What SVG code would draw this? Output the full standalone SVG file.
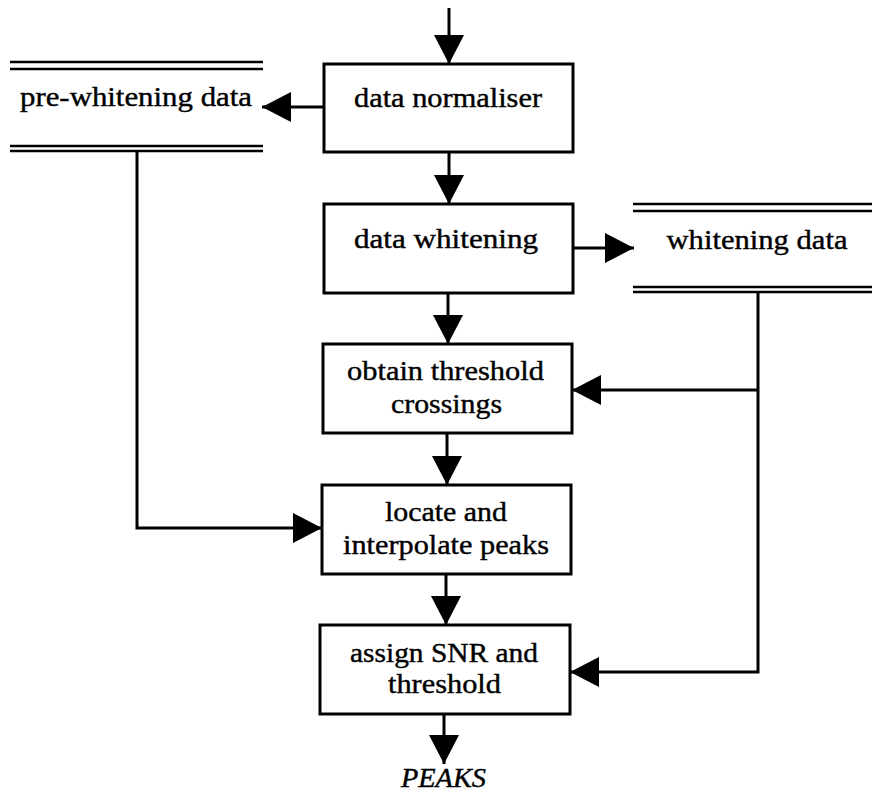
<svg xmlns="http://www.w3.org/2000/svg" width="872" height="794" viewBox="0 0 872 794">
<style>
.box{fill:#fff;stroke:#000;stroke-width:3}
.t{font-family:"Liberation Serif","DejaVu Serif",serif;font-size:27px;text-anchor:middle;fill:#000;stroke:#000;stroke-width:0.4}
.it{font-style:italic}
.ln{fill:none;stroke:#000;stroke-width:3}
.dl{stroke:#000;stroke-width:2.5}
</style>
<defs>
<marker id="ah" markerUnits="userSpaceOnUse" markerWidth="29" markerHeight="30" refX="29" refY="15" orient="auto">
<path d="M0,0 L29,15 L0,30 z" fill="#000"/>
</marker>
</defs>
<rect width="872" height="794" fill="#fff"/>
<g id="connectors">
<path class="ln" d="M449,8 V64" marker-end="url(#ah)"/>
<path class="ln" d="M449,152 V204" marker-end="url(#ah)"/>
<path class="ln" d="M448,293 V344" marker-end="url(#ah)"/>
<path class="ln" d="M447,433 V485" marker-end="url(#ah)"/>
<path class="ln" d="M446,574 V625" marker-end="url(#ah)"/>
<path class="ln" d="M444,714 V764" marker-end="url(#ah)"/>
<path class="ln" d="M324,107 H262" marker-end="url(#ah)"/>
<path class="ln" d="M137,151 V528 H322" marker-end="url(#ah)"/>
<path class="ln" d="M573,248 H634" marker-end="url(#ah)"/>
<path class="ln" d="M758,292 V672 H570" marker-end="url(#ah)"/>
<path class="ln" d="M758,390 H572" marker-end="url(#ah)"/>
</g>
<g id="pre-whitening">
<line class="dl" x1="10" y1="62" x2="263" y2="62"/>
<line class="dl" x1="10" y1="69" x2="263" y2="69"/>
<line class="dl" x1="10" y1="146" x2="263" y2="146"/>
<line class="dl" x1="10" y1="151" x2="263" y2="151"/>
<text class="t" x="136" y="106" textLength="232" lengthAdjust="spacingAndGlyphs">pre-whitening data</text>
</g>
<g id="whitening-data">
<line class="dl" x1="633" y1="204" x2="872" y2="204"/>
<line class="dl" x1="633" y1="211" x2="872" y2="211"/>
<line class="dl" x1="633" y1="287" x2="872" y2="287"/>
<line class="dl" x1="633" y1="292" x2="872" y2="292"/>
<text class="t" x="757" y="249" textLength="181" lengthAdjust="spacingAndGlyphs">whitening data</text>
</g>
<g id="normaliser">
<rect class="box" x="324" y="64" width="249" height="88"/>
<text class="t" x="448" y="107" textLength="188" lengthAdjust="spacingAndGlyphs">data normaliser</text>
</g>
<g id="whitening">
<rect class="box" x="324" y="204" width="249" height="89"/>
<text class="t" x="446" y="248" textLength="184" lengthAdjust="spacingAndGlyphs">data whitening</text>
</g>
<g id="threshold">
<rect class="box" x="323" y="344" width="249" height="89"/>
<text class="t" x="445.5" y="380" textLength="197" lengthAdjust="spacingAndGlyphs">obtain threshold</text>
<text class="t" x="446.5" y="413" textLength="111" lengthAdjust="spacingAndGlyphs">crossings</text>
</g>
<g id="locate">
<rect class="box" x="322" y="485" width="249" height="89"/>
<text class="t" x="446" y="521" textLength="122" lengthAdjust="spacingAndGlyphs">locate and</text>
<text class="t" x="446" y="554" textLength="206" lengthAdjust="spacingAndGlyphs">interpolate peaks</text>
</g>
<g id="assign">
<rect class="box" x="320" y="625" width="250" height="89"/>
<text class="t" x="444" y="662" textLength="188" lengthAdjust="spacingAndGlyphs">assign SNR and</text>
<text class="t" x="444.5" y="693" textLength="113" lengthAdjust="spacingAndGlyphs">threshold</text>
</g>
<g id="peaks">
<text class="t it" x="443.5" y="787" textLength="85" lengthAdjust="spacingAndGlyphs">PEAKS</text>
</g>
</svg>
